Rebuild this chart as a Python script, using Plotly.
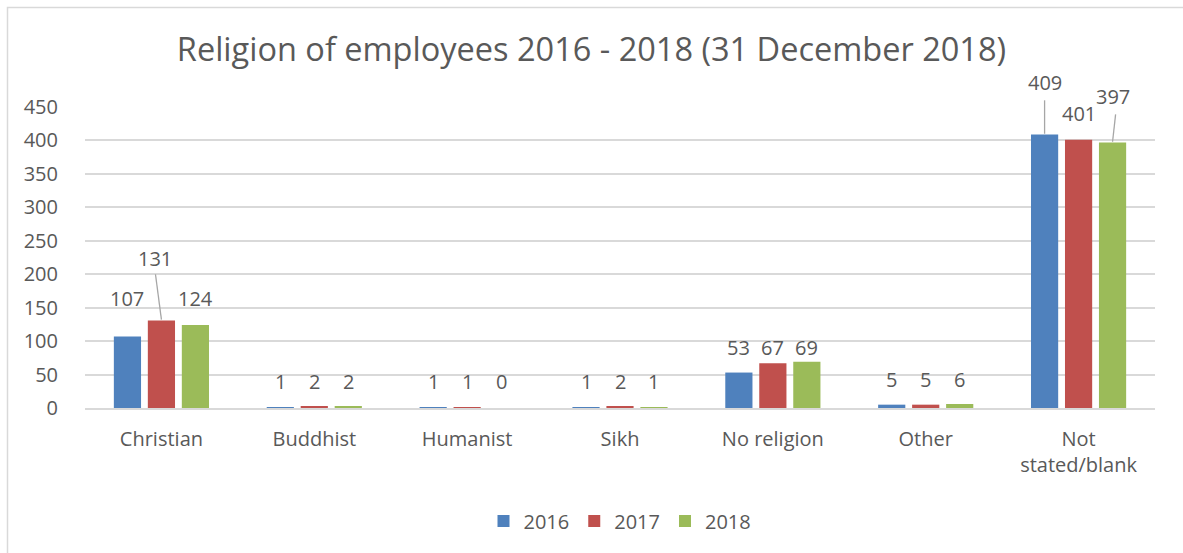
import plotly.graph_objects as go

categories = ["Christian", "Buddhist", "Humanist", "Sikh", "No religion", "Other", "Not<br>stated/blank"]
years = ["2016", "2017", "2018"]
v2016 = [107, 1, 1, 1, 53, 5, 409]
v2017 = [131, 2, 1, 2, 67, 5, 401]
v2018 = [124, 2, 0, 1, 69, 6, 397]
series = [v2016, v2017, v2018]
colors = ["#4f81bd", "#c0504d", "#9bbb59"]

YMAX = 450
# label placement (data units) mimicking the manually positioned labels of the original
label_y = [
    [163, 40, 40, 40, 91, 42, 487],
    [224, 40, 40, 40, 91, 42, 441],
    [164, 40, 40, 40, 91, 42, 465],
]
label_dx = [
    [0, 0, 0, 0, 0, 0, 0],
    [-0.045, 0, 0, 0, 0, 0, 0],
    [0, 0, 0, 0, 0, 0, 0],
]
# leader lines: (series index, category index, label-side y, dx at label, dx at bar)
leaders = [(1, 0, 200, -0.039, 0.0), (0, 6, 460, 0.0, 0.0), (2, 6, 439, 0.02, 0.0)]

TXT = "#595959"
FONT = "Open Sans"
slot = (1 - 0.333) / 3

fig = go.Figure()
for i, (yr, vals) in enumerate(zip(years, series)):
    fig.add_trace(go.Bar(name=yr, x=categories, y=vals, marker_color=colors[i],
                         marker_line_width=0, hoverinfo="x+y"))

ann = []
for i, vals in enumerate(series):
    off = (i - 1) * slot
    for j, v in enumerate(vals):
        ann.append(dict(x=j + off + label_dx[i][j], y=label_y[i][j] / YMAX, xref="x", yref="paper",
                        text=str(v), showarrow=False, yanchor="middle",
                        font=dict(family=FONT, size=20, color=TXT)))

shapes = []
for (i, j, ly, dxl, dxb) in leaders:
    off = (i - 1) * slot
    shapes.append(dict(type="line", xref="x", yref="paper",
                       x0=j + off + dxl, y0=ly / YMAX, x1=j + off + dxb, y1=(series[i][j] + 1) / YMAX,
                       line=dict(color="#a6a6a6", width=1.3)))
plot_w = 1183 - 85 - 28
plot_h = 553 - 107 - 145
shapes.append(dict(type="rect", xref="paper", yref="paper", layer="below",
                   x0=(7.5 - 85) / plot_w, x1=(1200 - 85) / plot_w,
                   y0=-160 / plot_h, y1=(408 - 7.5) / plot_h,
                   line=dict(color="#d9d9d9", width=1.5)))

fig.update_layout(
    width=1183, height=553,
    margin=dict(l=85, r=28, t=107, b=145),
    paper_bgcolor="white", plot_bgcolor="white",
    barmode="group", bargap=0.333, bargroupgap=0.2,
    title=dict(text="Religion of employees 2016 - 2018 (31 December 2018)",
               x=0.5, xanchor="center", y=1 - 50 / 553, yanchor="middle",
               font=dict(family=FONT, size=32.5, color=TXT)),
    xaxis=dict(type="category", tickfont=dict(family=FONT, size=20, color=TXT),
               showgrid=False, showline=True, linecolor="#d9d9d9", linewidth=1.5,
               ticks="outside", ticklen=12, tickcolor="rgba(0,0,0,0)"),
    yaxis=dict(range=[0, YMAX], dtick=50, tickfont=dict(family=FONT, size=20, color=TXT),
               showgrid=True, gridcolor="#d9d9d9", gridwidth=1.5, zeroline=False,
               showline=False, ticks="outside", ticklen=12, tickcolor="rgba(0,0,0,0)",
               ticksuffix="\u2002"),
    legend=dict(orientation="h", x=0.5, xanchor="center", y=1 - (521 - 107) / plot_h,
                yanchor="middle", font=dict(family=FONT, size=20, color=TXT),
                itemwidth=30, tracegroupgap=0),
    annotations=ann, shapes=shapes,
    showlegend=True,
)

fig.write_html("out.html")
